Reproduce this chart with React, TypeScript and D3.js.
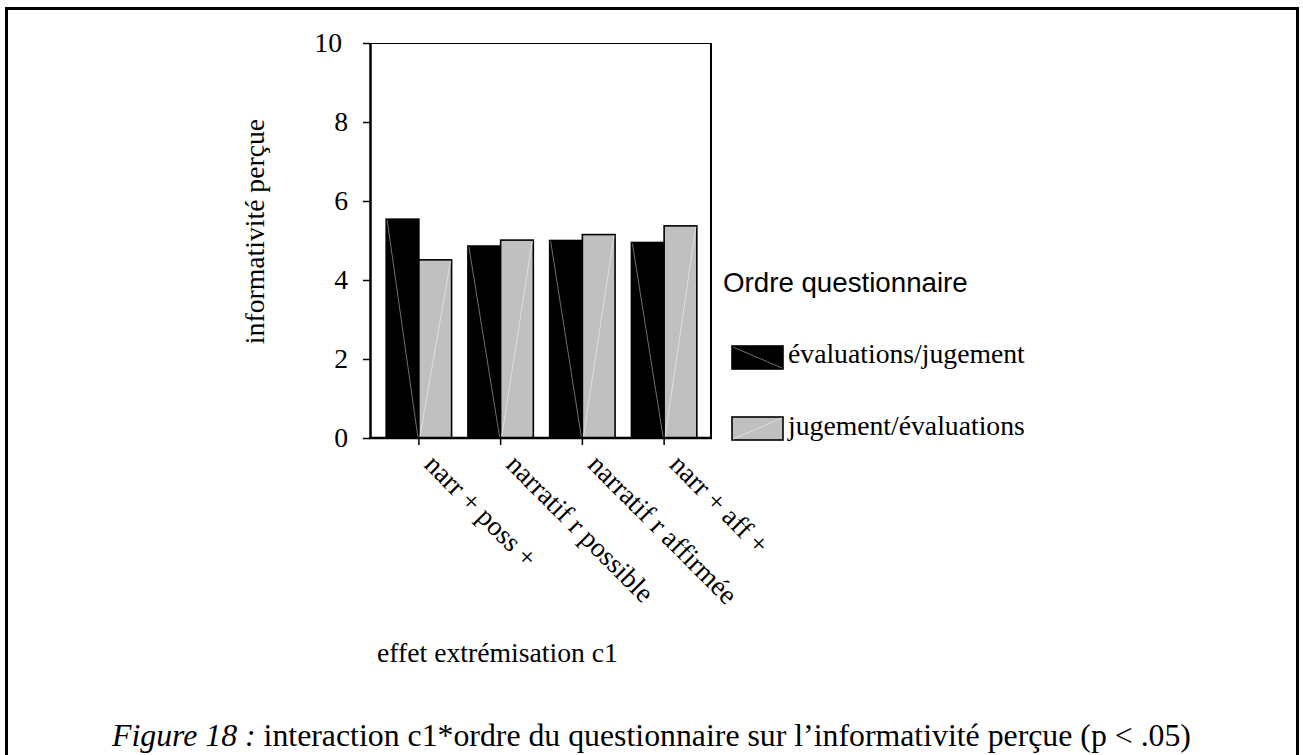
import React, { useEffect, useRef } from 'react';
import * as d3 from 'd3';

// values
const categories = ['narr + poss +', 'narratif r possible', 'narratif r affirmée', 'narr + aff +'];
const seriesNames = ['évaluations/jugement', 'jugement/évaluations'];
const evalJugement = [5.54, 4.86, 5.0, 4.95];
const jugementEval = [4.51, 5.01, 5.15, 5.37];
const yTicks = [0, 2, 4, 6, 8, 10];
const seriesFill = ['#000000', '#c0c0c0'];
const diagColor = ['#8a8a8a', '#e6e6e6'];

const SERIF = '"Liberation Serif", "Times New Roman", serif';
const SANS = '"Liberation Sans", Arial, sans-serif';
const FS = 27.7;

const App = () => {
    const svgRef = useRef<SVGSVGElement>(null);

    useEffect(() => {
        document.body.style.margin = '0';
        const svg = d3.select(svgRef.current);
        svg.selectAll('*').remove();

        const plot = { left: 370, right: 711, top: 43, bottom: 438 };
        const rows = categories.map((c, i) => ({ cat: c, values: [evalJugement[i], jugementEval[i]] }));

        const x0 = d3.scaleBand()
            .domain(categories)
            .range([378, 705])
            .paddingInner(0.2)
            .paddingOuter(0.1);
        const x1 = d3.scaleBand()
            .domain(seriesNames)
            .range([0, x0.bandwidth()]);
        const y = d3.scaleLinear()
            .domain([0, 10])
            .range([plot.bottom, plot.top]);

        // outer frame
        svg.append('rect')
            .attr('x', 6.5).attr('y', 8.5)
            .attr('width', 1291).attr('height', 800)
            .attr('fill', 'none').attr('stroke', '#000').attr('stroke-width', 3);

        // plot box (top + right)
        svg.append('line')
            .attr('x1', plot.left).attr('x2', plot.right)
            .attr('y1', plot.top + 0.5).attr('y2', plot.top + 0.5)
            .attr('stroke', '#000').attr('stroke-width', 1.2);
        svg.append('line')
            .attr('x1', plot.right).attr('x2', plot.right)
            .attr('y1', plot.top).attr('y2', plot.bottom)
            .attr('stroke', '#000').attr('stroke-width', 2);

        // bars
        const groups = svg.selectAll('.grp')
            .data(rows)
            .enter().append('g')
            .attr('class', 'grp')
            .attr('transform', d => `translate(${x0(d.cat)},0)`);

        groups.selectAll('rect')
            .data(d => d.values.map((v, k) => ({ v, k })))
            .enter().append('rect')
            .attr('x', d => x1(seriesNames[d.k]) as number)
            .attr('y', d => y(d.v))
            .attr('width', x1.bandwidth())
            .attr('height', d => plot.bottom - y(d.v))
            .attr('fill', d => seriesFill[d.k])
            .attr('stroke', '#000')
            .attr('stroke-width', 1.6);

        // faint diagonal of the fill effect
        groups.selectAll('line.diag')
            .data(d => d.values.map((v, k) => ({ v, k })))
            .enter().append('line')
            .attr('class', 'diag')
            .attr('x1', d => (x1(seriesNames[d.k]) as number) + 1)
            .attr('x2', d => (x1(seriesNames[d.k]) as number) + x1.bandwidth() - 1)
            .attr('y1', d => d.k === 0 ? y(d.v) + 1 : plot.bottom - 1)
            .attr('y2', d => d.k === 0 ? plot.bottom - 1 : y(d.v) + 1)
            .attr('stroke', d => diagColor[d.k])
            .attr('stroke-width', 0.8);

        // y axis
        const yAxis = svg.append('g')
            .attr('transform', `translate(${plot.left},0)`)
            .call(d3.axisLeft(y).tickValues(yTicks).tickSize(7).tickSizeOuter(0).tickPadding(15));
        yAxis.attr('font-family', null).attr('font-size', null);
        yAxis.select('.domain').attr('stroke-width', 2.5);
        yAxis.selectAll('.tick line').attr('stroke-width', 1.5);
        yAxis.selectAll('.tick text')
            .style('font-family', SERIF)
            .style('font-size', `${FS}px`)
            .attr('fill', '#000')
            .attr('dx', d => (d === 10 ? -6 : 0));

        // x axis
        svg.append('line')
            .attr('x1', plot.left - 1).attr('x2', plot.right + 1)
            .attr('y1', plot.bottom).attr('y2', plot.bottom)
            .attr('stroke', '#000').attr('stroke-width', 2.5);
        const xAxis = svg.append('g')
            .attr('transform', `translate(0,${plot.bottom})`)
            .call(d3.axisBottom(x0).tickSize(7).tickSizeOuter(0));
        xAxis.attr('font-family', null).attr('font-size', null);
        xAxis.select('.domain').remove();
        xAxis.selectAll('.tick line').attr('stroke-width', 1.5);
        xAxis.selectAll('.tick text')
            .style('font-family', SERIF)
            .style('font-size', `${FS}px`)
            .attr('fill', '#000')
            .attr('y', 0).attr('dy', 0)
            .attr('text-anchor', 'start')
            .attr('transform', 'translate(4,28) rotate(45)');

        // axis titles
        svg.append('text')
            .attr('transform', 'translate(264,231.5) rotate(-90)')
            .attr('text-anchor', 'middle')
            .style('font-family', SERIF).style('font-size', `${FS}px`)
            .text('informativité perçue');
        svg.append('text')
            .attr('x', 377).attr('y', 662)
            .style('font-family', SERIF).style('font-size', `${FS}px`)
            .text('effet extrémisation c1');

        // legend
        const legend = svg.append('g');
        legend.append('text')
            .attr('x', 723).attr('y', 292)
            .style('font-family', SANS).style('font-size', `${FS}px`)
            .text('Ordre questionnaire');
        const legendRows = [{ y: 346, base: 363 }, { y: 417, base: 435 }];
        seriesNames.forEach((name, k) => {
            const r = legendRows[k];
            legend.append('rect')
                .attr('x', 732).attr('y', r.y)
                .attr('width', 51).attr('height', 23)
                .attr('fill', seriesFill[k])
                .attr('stroke', '#000').attr('stroke-width', 1.6);
            legend.append('line')
                .attr('x1', 733).attr('x2', 782)
                .attr('y1', k === 0 ? r.y + 1 : r.y + 22)
                .attr('y2', k === 0 ? r.y + 22 : r.y + 1)
                .attr('stroke', diagColor[k]).attr('stroke-width', 0.8);
            legend.append('text')
                .attr('x', 788).attr('y', r.base)
                .style('font-family', SERIF).style('font-size', `${FS}px`)
                .text(name);
        });

        // caption
        const cap = svg.append('text')
            .attr('x', 112).attr('y', 746)
            .style('font-family', SERIF).style('font-size', '31.8px');
        cap.append('tspan').attr('font-style', 'italic').text('Figure 18 :');
        cap.append('tspan').text(' interaction c1*ordre du questionnaire sur l’informativité perçue (p < .05)');
    }, []);

    return <svg ref={svgRef} width={1303} height={755} style={{ display: 'block' }}></svg>;
};

export default App;
